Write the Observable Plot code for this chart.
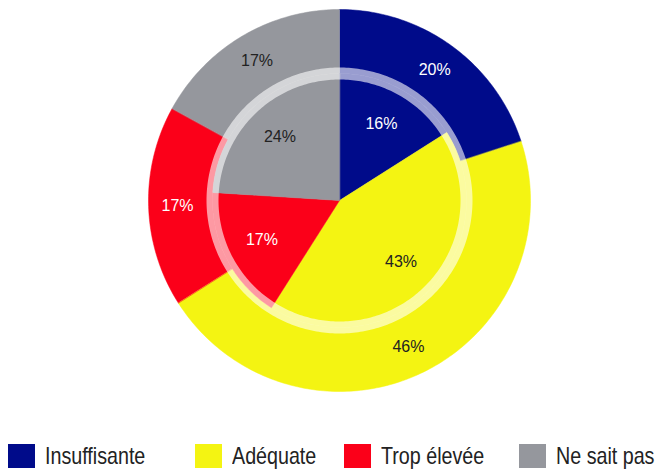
<!DOCTYPE html>
<html><head><meta charset="utf-8">
<script src="https://cdn.jsdelivr.net/npm/d3@7"></script>
<script src="https://cdn.jsdelivr.net/npm/@observablehq/plot@0.6"></script>
<style>
body{margin:0;background:#fff;}
#legend{position:relative;width:656px;height:41px;font-family:"Liberation Sans",Arial,sans-serif;font-size:24px;color:#222;}
.item{position:absolute;top:14px;display:flex;align-items:center;height:24px;white-space:nowrap;}
.sw{width:27px;height:24px;margin-right:10px;flex:none;}
.tx{display:inline-block;transform:scaleX(0.82);transform-origin:0 50%;}
</style></head><body><div id="chart"></div><div id="legend"></div>
<script>
const categories = ["Insuffisante", "Adéquate", "Trop élevée", "Ne sait pas"];
const outerValues = [20, 46, 17, 17];
const innerValues = [16, 43, 17, 24];
const colors = ["#000b8a", "#f4f412", "#fb0019", "#95979d"];
const labelColors = ["#ffffff", "#222222", "#ffffff", "#222222"];

const W = 656, H = 430, cx = 339, cy = 200, R = 191;
const rOuter = 1, rMid = 127 / R, rOutLab = 162 / R, rInLab = 87 / R;

function arcPts(r, a0, a1) {
  const n = Math.max(2, Math.ceil((a1 - a0) * 360));
  const pts = [];
  for (let i = 0; i <= n; i++) {
    const a = (a0 + (a1 - a0) * i / n) * 2 * Math.PI;
    pts.push([Math.sin(a) * r, -Math.cos(a) * r]);
  }
  return pts;
}

const polys = [];
const labels = [];
function addRing(values, r0, r1, rLab, prefix) {
  const total = d3.sum(values);
  let acc = 0;
  values.forEach((v, i) => {
    const a0 = acc / total, a1 = (acc + v) / total;
    acc += v;
    let pts;
    if (r0 === 0) pts = [[0, 0], ...arcPts(r1, a0, a1)];
    else pts = [...arcPts(r1, a0, a1), ...arcPts(r0, a0, a1).reverse()];
    pts.forEach(([x, y]) => polys.push({key: prefix + i, x, y, color: colors[i]}));
    const am = (a0 + a1) / 2 * 2 * Math.PI;
    labels.push({x: Math.sin(am) * rLab, y: -Math.cos(am) * rLab, text: v + "%", color: labelColors[i]});
  });
}
addRing(outerValues, rMid, rOuter, rOutLab, "o");
addRing(innerValues, 0, rMid, rInLab, "i");
const ring = arcPts(rMid, 0, 1).map(([x, y]) => ({x, y}));

const chart = Plot.plot({
  width: W, height: H, margin: 0,
  x: {domain: [-cx / R, (W - cx) / R], range: [0, W], axis: null},
  y: {domain: [-cy / R, (H - cy) / R], range: [0, H], axis: null},
  color: {type: "identity"},
  marks: [
    Plot.line(polys, {x: "x", y: "y", z: "key", fill: "color", stroke: "color", strokeWidth: 0.5, curve: "linear-closed"}),
    Plot.line(ring, {x: "x", y: "y", stroke: "white", strokeOpacity: 0.6, strokeWidth: 12, curve: "linear-closed"}),
    Plot.text(labels, {x: "x", y: "y", text: "text", fill: "color", fontSize: 16, fontFamily: "Liberation Sans, Arial, sans-serif"})
  ]
});
document.getElementById("chart").appendChild(chart);

const lefts = [8, 195, 344, 519];
const legend = document.getElementById("legend");
categories.forEach((c, i) => {
  const it = document.createElement("div");
  it.className = "item";
  it.style.left = lefts[i] + "px";
  const sw = document.createElement("span");
  sw.className = "sw";
  sw.style.background = colors[i];
  const tx = document.createElement("span");
  tx.className = "tx";
  tx.textContent = c;
  it.appendChild(sw); it.appendChild(tx);
  legend.appendChild(it);
});
</script></body></html>
